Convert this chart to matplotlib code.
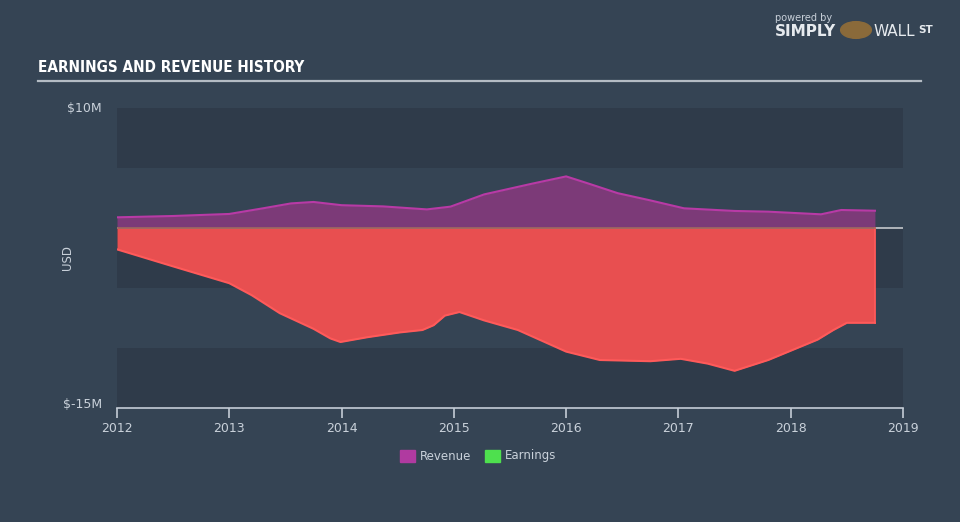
import matplotlib.pyplot as plt
import numpy as np

# values in $M, x in decimal years
rev_x = [2012.0, 2012.5, 2013.0, 2013.3, 2013.55, 2013.75, 2014.0, 2014.37, 2014.76, 2014.97,
         2015.27, 2015.7, 2016.0, 2016.2, 2016.46, 2016.75, 2017.05, 2017.5, 2017.8, 2018.1,
         2018.27, 2018.45, 2018.75]
rev_y = [0.89, 1.0, 1.17, 1.64, 2.05, 2.17, 1.9, 1.8, 1.55, 1.78,
         2.8, 3.7, 4.3, 3.7, 2.9, 2.3, 1.64, 1.42, 1.36, 1.22,
         1.14, 1.5, 1.44]

earn_x = [2012.0, 2012.5, 2013.0, 2013.2, 2013.45, 2013.75, 2013.9, 2013.99, 2014.23, 2014.52,
          2014.72, 2014.82, 2014.92, 2015.05, 2015.27, 2015.57, 2016.0, 2016.3, 2016.75, 2017.02,
          2017.26, 2017.5, 2017.8, 2018.24, 2018.38, 2018.5, 2018.75]
earn_y = [-1.78, -3.2, -4.6, -5.6, -7.1, -8.4, -9.2, -9.5, -9.1, -8.7,
          -8.5, -8.1, -7.3, -7.0, -7.7, -8.5, -10.3, -11.0, -11.1, -10.9,
          -11.3, -11.9, -11.0, -9.3, -8.5, -7.9, -7.9]

years = list(range(2012, 2020))

bg = '#354454'
band = '#2f3b4a'
txt = '#c9d1da'

fig = plt.figure(figsize=(9.6, 5.22), dpi=100, facecolor=bg)
ax = fig.add_axes([117/960, 1 - 408/522, 786/960, 300/522])
ax.set_facecolor(bg)

# alternating horizontal bands
for lo, hi in [(5, 10), (-5, 0), (-15, -10)]:
    ax.axhspan(lo, hi, color=band, zorder=0, lw=0)

ax.axhline(0, color='#c4c8cc', lw=1.2, zorder=1)

ax.fill_between(rev_x, 0, rev_y, color='#7c3a78', lw=0, zorder=2)
ax.plot(rev_x, rev_y, color='#b83aa6', lw=1.5, zorder=3)
ax.fill_between(earn_x, 0, earn_y, color='#e84f50', lw=0, zorder=2)
ax.plot(earn_x, earn_y, color='#ff5a5a', lw=1.5, zorder=3)
ax.plot([earn_x[-1], earn_x[-1]], [earn_y[-1], 0], color='#ff5a5a', lw=1.2, zorder=3)
ax.plot([rev_x[0], rev_x[-1]], [0, 0], color='#a0685e', lw=1.2, zorder=3)

ax.set_xlim(2012, 2019)
ax.set_ylim(-15, 10)
ax.set_xticks(years)
ax.set_xticklabels([str(y) for y in years], color=txt, fontsize=9)
ax.set_yticks([])
for s in ['top', 'right', 'left']:
    ax.spines[s].set_visible(False)
ax.spines['bottom'].set_color('#c4ccd6')
ax.spines['bottom'].set_linewidth(1.2)
ax.tick_params(axis='x', colors='#c4ccd6', length=7, width=1.2, pad=3, labelcolor=txt)

fig.text(102/960, 1 - 108/522, '$10M', color=txt, fontsize=9, ha='right', va='center')
fig.text(102/960, 1 - 404/522, '$-15M', color=txt, fontsize=9, ha='right', va='center')
fig.text(68/960, 1 - 258/522, 'USD', color=txt, fontsize=8.5, rotation=90, ha='center', va='center')

# title and rule
fig.text(38/960, 1 - 68/522, 'EARNINGS AND REVENUE HISTORY', color='white', fontsize=11,
         fontweight='bold', fontstretch='condensed', family='Liberation Sans Narrow', va='center')
fig.add_artist(plt.Line2D([38/960, 921/960], [1 - 81/522, 1 - 81/522], color='#b4bcc4', lw=1.6))

# branding
fig.text(775/960, 1 - 18/522, 'powered by', color='#c9d1da', fontsize=7, va='center')
fig.text(775/960, 1 - 32/522, 'SIMPLY', color='#e6eaee', fontsize=11, fontweight='bold', va='center')
fig.text(874/960, 1 - 32/522, 'WALL', color='#e6eaee', fontsize=11, va='center')
fig.text(918/960, 1 - 30/522, 'ST', color='#e6eaee', fontsize=7.5, fontweight='bold', va='center')
fig.add_artist(plt.Circle((856/960, 1 - 30/522), 0.016, transform=fig.transFigure,
                          color='#8a6a3a'))

# legend
fig.add_artist(plt.Rectangle((400/960, 1 - 462/522), 15/960, 12/522, color='#b03aa0',
                             transform=fig.transFigure))
fig.text(420/960, 1 - 456/522, 'Revenue', color=txt, fontsize=8.5, va='center')
fig.add_artist(plt.Rectangle((485/960, 1 - 462/522), 15/960, 12/522, color='#4ee04e',
                             transform=fig.transFigure))
fig.text(505/960, 1 - 456/522, 'Earnings', color=txt, fontsize=8.5, va='center')

fig.savefig('out.png', dpi=100, facecolor=bg)
